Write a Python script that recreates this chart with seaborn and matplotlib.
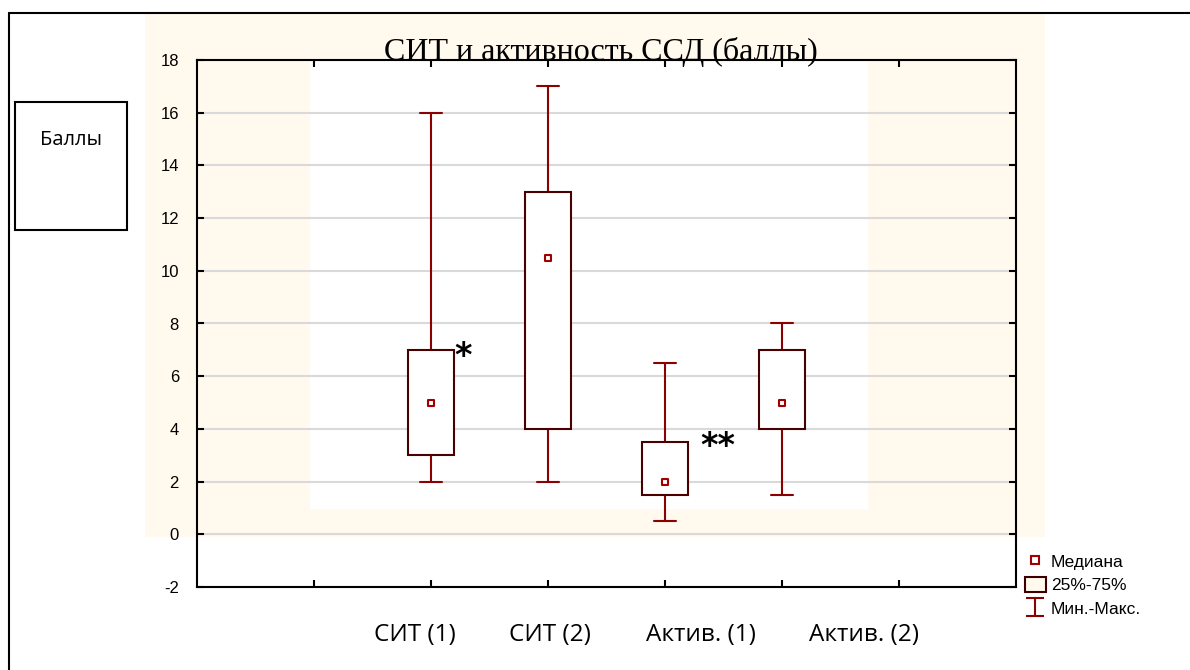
import numpy as np
import pandas as pd
import matplotlib
matplotlib.use('Agg')
import matplotlib.pyplot as plt
from matplotlib.patches import Rectangle, Patch
from matplotlib.lines import Line2D
from matplotlib.path import Path
import seaborn as sns

# values
groups = ['СИТ (1)', 'СИТ (2)', 'Актив. (1)', 'Актив. (2)']
positions = [2, 3, 4, 5]
mins = [2, 2, 0.5, 1.5]
q1 = [3, 4, 1.5, 4]
medians = [5, 10.5, 2, 5]
q3 = [7, 13, 3.5, 7]
maxs = [16, 17, 6.5, 8]
yticks = list(range(-2, 19, 2))
legend_labels = ['Медиана', '25%-75%', 'Мин.-Макс.']
title = 'СИТ и активность ССД (баллы)'
ylabel = 'Баллы'
marks = ['*', '**']

# five numbers per group: their 0/25/50/75/100 percentiles are exactly the box stats
rows = []
for g, p, a, b, c, d, e in zip(groups, positions, mins, q1, medians, q3, maxs):
    for v in (a, b, c, d, e):
        rows.append({'group': g, 'pos': p, 'value': v})
df = pd.DataFrame(rows)
med_df = pd.DataFrame({'pos': positions, 'median': medians})

W, H = 1190, 670
def fx(px):
    return px / W
def fy(py):
    return 1 - py / H

sns.set_style('white')
plt.rcParams['font.family'] = ['Liberation Sans', 'DejaVu Sans']
plt.rcParams['text.color'] = 'black'
plt.rcParams['xtick.color'] = 'black'
plt.rcParams['ytick.color'] = 'black'

cream = '#fff9ee'
box_edge = '#4a0000'
red = '#8b0000'

fig = plt.figure(figsize=(W / 100, H / 100), dpi=100)

# pasted-picture background pieces
fig.add_artist(Rectangle((fx(145), fy(537)), fx(1045 - 145), (537 - 12) / H,
                         transform=fig.transFigure, facecolor=cream, edgecolor='none', zorder=-10))
fig.add_artist(Rectangle((fx(310), fy(509)), fx(868 - 310), (509 - 61) / H,
                         transform=fig.transFigure, facecolor='white', edgecolor='none', zorder=-9))
# outer frame (top and left only)
fig.add_artist(Line2D([fx(9), 1], [fy(12.5), fy(12.5)], transform=fig.transFigure, color='black', lw=1.5))
fig.add_artist(Line2D([fx(9), fx(9)], [fy(12.5), 0], transform=fig.transFigure, color='black', lw=1.5))

ax = fig.add_axes([fx(197), fy(587), fx(1016 - 197), (587 - 60) / H])
ax.set_facecolor('none')

sns.boxplot(data=df, x='pos', y='value', native_scale=True, width=0.385, whis=(0, 100),
            color='white', linecolor=red, linewidth=1.5, showfliers=False,
            boxprops={'edgecolor': box_edge}, medianprops={'visible': False}, ax=ax)
for patch in ax.patches:
    patch.set_edgecolor(box_edge)
    patch.set_facecolor('white')
    patch.set_zorder(3)

sns.scatterplot(data=med_df, x='pos', y='median', marker='s', s=24, color='white',
                edgecolor='#a00000', linewidth=1.5, ax=ax, zorder=5, legend=False)

ax.set_xlim(0, 7)
ax.set_ylim(-2, 18)
ax.set_xticks(range(1, 7))
ax.set_xticklabels([])
ax.set_yticks(yticks)
ax.set_yticklabels([str(t) for t in yticks], fontsize=12)
ax.set_xlabel('')
ax.set_ylabel('')
ax.tick_params(direction='in', length=5, width=1.5, top=True, right=True,
               left=True, bottom=True, colors='black', labelcolor='black')
ax.tick_params(axis='y', pad=13)
for s in ax.spines.values():
    s.set_visible(True)
    s.set_color('black')
    s.set_linewidth(1.5)
ax.yaxis.grid(True, color='#d9d9d9', linewidth=1.5)
ax.set_axisbelow(True)

# significance marks
ax.text(2.27, 6.39, marks[0], ha='center', va='baseline', family='DejaVu Sans',
        fontsize=24, fontweight='bold', color='black')
ax.text(4.45, 2.97, marks[1], ha='center', va='baseline', family='DejaVu Sans',
        fontsize=24, fontweight='bold', color='black')

fig.text(fx(601), fy(60), title, ha='center', va='baseline',
         family='Liberation Serif', fontsize=23, color='black')

# "Баллы" box at left
fig.add_artist(Rectangle((fx(15), fy(230)), fx(112), 128 / H, transform=fig.transFigure,
                         facecolor='white', edgecolor='black', lw=1.5))
fig.text(fx(70.5), fy(145), ylabel, ha='center', va='baseline', family='Open Sans',
         fontsize=14.5, color='black')

# category labels sit a bit off the boxes in the original
label_x = [414.6, 550, 701, 864]
for lab, px in zip(groups, label_x):
    fig.text(fx(px), fy(641), lab, ha='center', va='baseline', family='Open Sans',
             fontsize=17.5, color='black')

ibeam = Path([(-1, -1), (1, -1), (0, -1), (0, 1), (-1, 1), (1, 1)],
             [Path.MOVETO, Path.LINETO, Path.MOVETO, Path.LINETO, Path.MOVETO, Path.LINETO])
handles = [
    Line2D([], [], ls='none', marker='s', markersize=6, mfc='white', mec='#a00000', mew=1.5),
    Patch(facecolor=cream, edgecolor='#3a0000', lw=1.5),
    Line2D([], [], ls='none', marker=ibeam, markersize=13, color=red, mew=1.5),
]
fig.legend(handles, legend_labels, loc='upper left', bbox_to_anchor=(fx(1025), fy(553)),
           frameon=False, fontsize=12.5, handlelength=1.2, handleheight=1.0,
           handletextpad=0.3, labelspacing=0.4, borderpad=0, borderaxespad=0,
           labelcolor='black')

fig.savefig('out.png', dpi=100)
